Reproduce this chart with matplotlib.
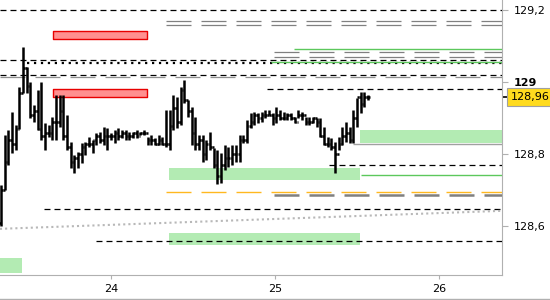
import matplotlib
matplotlib.use('Agg')
import matplotlib.pyplot as plt
import numpy as np
from matplotlib.lines import Line2D

plt.rcParams['font.family'] = ['DejaVu Sans']
plt.rcParams['lines.scale_dashes'] = False

# price bars (30 min-ish), time in days
t_start = 23.327
t_step = 0.02238
highs = [128.715, 128.854, 128.868, 128.918, 128.881, 128.987, 129.098, 129.043, 129.001, 128.937,
         128.979, 129.001, 128.887, 128.881, 128.904, 128.965, 128.965, 128.965, 128.909, 128.834,
         128.798, 128.806, 128.831, 128.834, 128.848, 128.840, 128.859, 128.862, 128.876, 128.873,
         128.859, 128.868, 128.873, 128.868, 128.868, 128.862, 128.862, 128.868, 128.862, 128.868,
         128.848, 128.854, 128.845, 128.854, 128.848, 128.923, 128.923, 128.965, 128.959, 128.987,
         129.006, 128.951, 128.931, 128.904, 128.854, 128.854, 128.840, 128.862, 128.818, 128.812,
         128.804, 128.826, 128.820, 128.826, 128.826, 128.854, 128.854, 128.895, 128.915, 128.918,
         128.915, 128.918, 128.923, 128.923, 128.915, 128.931, 128.923, 128.918, 128.915, 128.915,
         128.904, 128.923, 128.918, 128.904, 128.904, 128.904, 128.901, 128.901, 128.876, 128.848,
         128.845, 128.834, 128.848, 128.876, 128.890, 128.876, 128.923, 128.956, 128.973, 128.973,
         128.965]
lows = [128.601, 128.701, 128.770, 128.804, 128.812, 128.870, 128.970, 128.970, 128.901, 128.890,
        128.868, 128.840, 128.812, 128.848, 128.840, 128.840, 128.876, 128.840, 128.812, 128.762,
        128.748, 128.762, 128.776, 128.798, 128.820, 128.804, 128.826, 128.831, 128.826, 128.812,
        128.840, 128.831, 128.840, 128.845, 128.840, 128.840, 128.845, 128.845, 128.854, 128.854,
        128.826, 128.826, 128.826, 128.826, 128.826, 128.820, 128.812, 128.868, 128.873, 128.881,
        128.943, 128.904, 128.826, 128.812, 128.812, 128.779, 128.784, 128.812, 128.762, 128.718,
        128.720, 128.756, 128.765, 128.770, 128.779, 128.779, 128.831, 128.831, 128.873, 128.881,
        128.887, 128.890, 128.901, 128.909, 128.881, 128.887, 128.895, 128.895, 128.895, 128.895,
        128.887, 128.901, 128.895, 128.881, 128.881, 128.887, 128.876, 128.848, 128.826, 128.820,
        128.812, 128.748, 128.812, 128.826, 128.834, 128.831, 128.831, 128.876, 128.915, 128.931,
        128.951]
closes = [128.70, 128.78, 128.84, 128.83, 128.87, 128.97, 129.04, 128.99, 128.91, 128.92,
          128.87, 128.85, 128.86, 128.86, 128.89, 128.89, 128.92, 128.85, 128.82, 128.78,
          128.79, 128.80, 128.82, 128.83, 128.83, 128.84, 128.85, 128.84, 128.85, 128.85,
          128.85, 128.86, 128.85, 128.86, 128.85, 128.85, 128.86, 128.85, 128.86, 128.86,
          128.84, 128.84, 128.83, 128.84, 128.83, 128.83, 128.88, 128.93, 128.89, 128.98,
          128.95, 128.92, 128.86, 128.83, 128.84, 128.80, 128.83, 128.82, 128.77, 128.74,
          128.77, 128.79, 128.79, 128.80, 128.80, 128.84, 128.84, 128.88, 128.89, 128.91,
          128.90, 128.91, 128.91, 128.91, 128.90, 128.91, 128.90, 128.90, 128.91, 128.90,
          128.89, 128.91, 128.91, 128.89, 128.89, 128.90, 128.89, 128.85, 128.83, 128.83,
          128.82, 128.80, 128.83, 128.85, 128.86, 128.84, 128.90, 128.96, 128.94, 128.96,
          128.96]
first_open = 128.61
opens = [first_open] + closes[:-1]
last_price = 128.96

# horizontal levels: (price, start day)
black_dashed = [(129.200, 23.321), (129.061, 23.321), (129.019, 23.321),
                (128.981, 24.949), (128.770, 25.327), (128.647, 23.590), (128.559, 23.907)]
gray_double = [(129.170, 24.334), (129.159, 24.334), (129.084, 24.992), (129.071, 24.992)]
gray_dashed_lvl = (129.014, 23.321)
black_dotted_lvl = (129.053, 23.486)
green_lines = [(129.092, 25.113), (129.056, 24.974), (128.743, 25.522)]
gray_solid_lvl = (128.829, 25.473)
orange_lvl = (128.695, 24.334)
gray_thick_lvl = (128.688, 24.992)
trend_x = [23.321, 26.381]
trend_y = [128.593, 128.643]

# zones: (x0, x1, y0, y1)
green_zones = [(24.352, 25.516, 128.730, 128.762), (24.352, 25.516, 128.549, 128.581),
               (23.321, 23.455, 128.471, 128.512), (25.516, 26.381, 128.832, 128.868)]
red_zones = [(23.645, 24.216, 129.120, 129.142), (23.645, 24.216, 128.960, 128.981)]

x_min, x_max = 23.3213, 26.3805
y_min, y_max = 128.4639, 129.2286

fig = plt.figure(figsize=(5.5, 3.0), dpi=100)
ax = fig.add_axes([0.0, 0.0823, 0.9122, 0.9177])
ax.set_xlim(x_min, x_max)
ax.set_ylim(y_min, y_max)

for x0, x1, y0, y1 in green_zones:
    ax.fill_between([x0, x1], y0, y1, color='#b3ebb3', lw=0, zorder=1)
for x0, x1, y0, y1 in red_zones:
    ax.fill_between([x0, x1], y0, y1, facecolor='#ff9090', edgecolor='#e80000', lw=1.0, zorder=2)

for y, x0 in black_dashed:
    ax.hlines(y, x0, x_max, colors='black', lw=0.9, linestyles=(0, (4.3, 2.9)), zorder=3)
for y, x0 in gray_double:
    ax.hlines(y, x0, x_max, colors='#808080', lw=0.9, linestyles=(0, (18, 7.2)), zorder=3)
ax.hlines(gray_dashed_lvl[0], gray_dashed_lvl[1], x_max, colors='#909090', lw=0.9,
          linestyles=(0, (18, 7.2)), zorder=3)
ax.hlines(black_dotted_lvl[0], black_dotted_lvl[1], x_max, colors='black', lw=1.6,
          linestyles=(0, (1.6, 3.4)), zorder=3)
for y, x0 in green_lines:
    ax.hlines(y, x0, x_max, colors='#5cc85c', lw=1.0, zorder=3)
ax.hlines(gray_solid_lvl[0], gray_solid_lvl[1], x_max, colors='#a0a0a0', lw=1.0, zorder=3)
ax.hlines(orange_lvl[0], orange_lvl[1], x_max, colors='#ffb820', lw=1.0,
          linestyles=(0, (18, 7.2)), zorder=3)
ax.hlines(gray_thick_lvl[0], gray_thick_lvl[1], x_max, colors='#808080', lw=1.8,
          linestyles=(0, (18, 7.2)), zorder=3)
ax.plot(trend_x, trend_y, color='#b8b8b8', lw=1.5, ls=(0, (1.5, 2.2)), zorder=3)

t = t_start + t_step * np.arange(len(highs))
w = 0.010
ax.vlines(t, lows, highs, colors='black', lw=1.8, zorder=5)
ax.hlines(opens, t - w, t, colors='black', lw=1.8, zorder=5)
ax.hlines(closes, t, t + w, colors='black', lw=1.8, zorder=5)

# axes styling
for s in ['top', 'left']:
    ax.spines[s].set_visible(False)
ax.spines['right'].set_color('#b0b0b0')
ax.spines['bottom'].set_color('#b0b0b0')
ax.yaxis.tick_right()
ax.set_yticks([128.6, 128.8, 129.0, 129.2])
ax.set_yticklabels(['128,6', '128,8', '129', '129,2'])
ax.get_yticklabels()[2].set_fontweight('bold')
ax.set_yticks([last_price], minor=True)
ax.set_yticklabels([''], minor=True)
ax.tick_params(axis='y', which='major', length=4, color='#b0b0b0', labelsize=8, pad=4.5)
ax.tick_params(axis='y', which='minor', length=4, color='black', width=1.2)
ax.set_xticks([24, 25, 26])
ax.set_xticklabels(['24', '25', '26'])
ax.tick_params(axis='x', length=3, color='#b0b0b0', labelsize=8, pad=3)

ax.annotate('128,96', xy=(1, last_price), xycoords=('axes fraction', 'data'),
            xytext=(6.8, 0), textcoords='offset points', va='center', ha='left', fontsize=8,
            bbox=dict(boxstyle='square,pad=0.35', fc='#ffdb1e', ec='#a0a0a0', lw=0.8))

fig.add_artist(Line2D([0, 1], [0.003, 0.003], transform=fig.transFigure, color='#b0b0b0', lw=1.0))

fig.savefig('out.png', dpi=100)
